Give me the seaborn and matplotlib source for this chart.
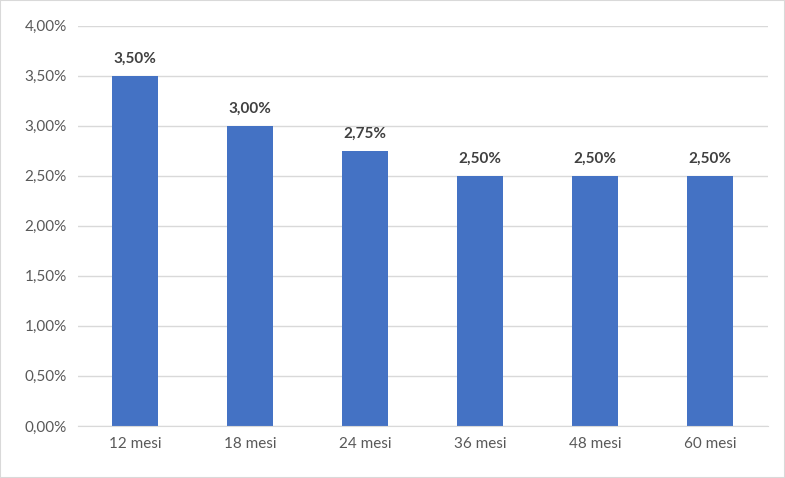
import matplotlib
matplotlib.use("Agg")
import matplotlib.pyplot as plt
import seaborn as sns
import pandas as pd
from matplotlib.ticker import FuncFormatter, MultipleLocator

categories = ["12 mesi", "18 mesi", "24 mesi", "36 mesi", "48 mesi", "60 mesi"]
values = [3.50, 3.00, 2.75, 2.50, 2.50, 2.50]

plt.rcParams["font.family"] = "Lato"
df = pd.DataFrame({"cat": categories, "val": values})
fig = plt.figure(figsize=(7.85, 4.78), dpi=100)
ax = fig.add_axes([0.099, 0.109, 0.879, 0.837])
sns.barplot(data=df, x="cat", y="val", color="#4472C4", width=0.4, saturation=1, ax=ax)
ax.set_ylim(0, 4.0)
ax.yaxis.set_major_locator(MultipleLocator(0.5))
ax.yaxis.set_major_formatter(FuncFormatter(lambda v, p: f"{v:.2f}%".replace(".", ",")))
ax.grid(axis="y", color="#D9D9D9", linewidth=1)
ax.set_axisbelow(True)
for s in ["top", "right", "left"]:
    ax.spines[s].set_visible(False)
ax.spines["bottom"].set_color("#D9D9D9")
ax.tick_params(length=0, labelsize=11, colors="#595959", pad=8)
ax.set_xlabel("")
ax.set_ylabel("")
for i, v in enumerate(values):
    ax.text(i, v + 0.1, f"{v:.2f}%".replace(".", ","), ha="center", va="bottom",
            fontsize=11, fontweight="bold", color="#404040")
fig.patches.append(plt.Rectangle((0, 0), 1, 1, transform=fig.transFigure, fill=False,
                                 edgecolor="#D9D9D9", linewidth=1.5))
fig.savefig("out.png", dpi=100)
